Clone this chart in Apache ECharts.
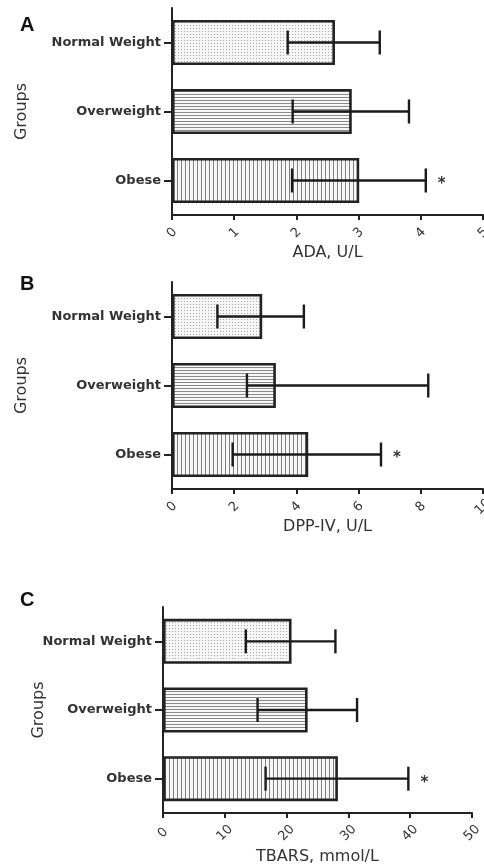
<!DOCTYPE html>
<html>
<head>
<meta charset="utf-8">
<script src="https://cdn.jsdelivr.net/npm/echarts@6/dist/echarts.min.js"></script>
<style>
html,body{margin:0;padding:0;background:#fff;}
#chart{width:484px;height:866px;}
</style>
</head>
<body>
<div id="chart"></div>
<script>
// ---- data ----
const categories = ['Normal Weight', 'Overweight', 'Obese'];
const panelLabels = ['A', 'B', 'C'];
const axisTitles = ['ADA, U/L', 'DPP-IV, U/L', 'TBARS, mmol/L'];
const yTitle = 'Groups';
const significance = ['', '', '*'];

const adaMean = [2.62, 2.89, 3.01];
const adaLow = [1.86, 1.94, 1.93];
const adaHigh = [3.34, 3.81, 4.08];

const dppMean = [2.90, 3.34, 4.38];
const dppLow = [1.46, 2.41, 1.95];
const dppHigh = [4.24, 8.24, 6.72];

const tbarsMean = [20.8, 23.4, 28.3];
const tbarsLow = [13.4, 15.3, 16.6];
const tbarsHigh = [27.9, 31.4, 39.7];

const axisMax = [5, 10, 50];
const axisInterval = [1, 2, 10];

// ---- patterns ----
function makePattern(w, h, bg, draw) {
  const c = document.createElement('canvas');
  c.width = w; c.height = h;
  const ctx = c.getContext('2d');
  ctx.fillStyle = bg; ctx.fillRect(0, 0, w, h);
  draw(ctx);
  return { image: c, repeat: 'repeat' };
}
const dotPattern = makePattern(3, 3, '#f6f6f6', ctx => { ctx.fillStyle = '#a8a8a8'; ctx.fillRect(1, 1, 1, 1); });
const hPattern = makePattern(4, 3, '#f7f7f7', ctx => { ctx.fillStyle = '#8a8a8a'; ctx.fillRect(0, 1, 4, 1); });
const vPattern = makePattern(4, 4, '#f7f7f7', ctx => { ctx.fillStyle = '#808080'; ctx.fillRect(1, 0, 1, 4); });
const patterns = [dotPattern, hPattern, vPattern];

const means = [adaMean, dppMean, tbarsMean];
const lows = [adaLow, dppLow, tbarsLow];
const highs = [adaHigh, dppHigh, tbarsHigh];

const grids = [
  { left: 172, top: 8, width: 311, height: 207 },
  { left: 172, top: 282, width: 311, height: 207 },
  { left: 163, top: 607, width: 309, height: 206 }
];
const nameGapsX = [30, 30, 36];
const nameGapsY = [142, 142, 116];
const labelMargins = [18, 18, 20];

const FONT = 'DejaVu Sans';
const ink = '#222';

const xAxes = grids.map((g, i) => ({
  type: 'value', gridIndex: i, min: 0, max: axisMax[i], interval: axisInterval[i],
  name: axisTitles[i], nameLocation: 'middle', nameGap: nameGapsX[i], nameMoveOverlap: false,
  nameTextStyle: { fontFamily: FONT, fontSize: 16, color: '#333' },
  axisLine: { show: true, onZero: false, lineStyle: { color: ink, width: 2 } },
  axisTick: { show: true, length: 5, lineStyle: { color: ink, width: 2 } },
  axisLabel: { rotate: 45, margin: labelMargins[i], align: 'center', verticalAlign: 'middle',
    fontFamily: FONT, fontSize: 13, color: '#333', showMaxLabel: true, showMinLabel: true },
  splitLine: { show: false }
}));

const yAxes = grids.map((g, i) => ({
  type: 'category', gridIndex: i, data: categories, inverse: true,
  name: yTitle, nameLocation: 'middle', nameGap: nameGapsY[i], nameMoveOverlap: false,
  nameTextStyle: { fontFamily: FONT, fontSize: 16, color: '#333' },
  axisLine: { show: true, lineStyle: { color: ink, width: 2 } },
  axisTick: { show: true, alignWithLabel: true, length: 8, lineStyle: { color: ink, width: 2 } },
  axisLabel: { margin: 11, fontFamily: FONT, fontSize: 13, fontWeight: 'bold', color: '#333' }
}));

const series = [];
grids.forEach((g, i) => {
  series.push({
    type: 'bar', xAxisIndex: i, yAxisIndex: i, barWidth: 45, silent: true,
    data: means[i].map((v, k) => ({ value: v, itemStyle: { color: patterns[k], borderColor: ink, borderWidth: 2.6 } })),
    z: 2
  });
  series.push({
    type: 'custom', xAxisIndex: i, yAxisIndex: i, silent: true, z: 5,
    encode: { x: [0, 1], y: 2 },
    data: lows[i].map((lo, k) => [lo, highs[i][k], k]),
    renderItem: function (params, api) {
      const k = api.value(2);
      const p1 = api.coord([api.value(0), k]);
      const p2 = api.coord([api.value(1), k]);
      const h = 12;
      const st = { stroke: '#1a1a1a', lineWidth: 2.4 };
      const children = [
        { type: 'line', shape: { x1: p1[0], y1: p1[1], x2: p2[0], y2: p2[1] }, style: st },
        { type: 'line', shape: { x1: p1[0], y1: p1[1] - h, x2: p1[0], y2: p1[1] + h }, style: st },
        { type: 'line', shape: { x1: p2[0], y1: p2[1] - h, x2: p2[0], y2: p2[1] + h }, style: st }
      ];
      if (significance[k]) {
        children.push({ type: 'text', x: p2[0] + 16, y: p2[1] + 4,
          style: { text: significance[k], font: 'bold 15px "DejaVu Sans"', fill: '#333', align: 'center', verticalAlign: 'middle' } });
      }
      return { type: 'group', children: children };
    }
  });
});

const labelPos = [[20, 33], [20, 292], [20, 608]];
const graphic = panelLabels.map((t, i) => ({
  type: 'text', left: labelPos[i][0], top: labelPos[i][1] - 18,
  style: { text: t, font: 'bold 20px "Liberation Sans"', fill: '#111' }
}));

const chart = echarts.init(document.getElementById('chart'), null, { renderer: 'canvas' });
chart.setOption({
  animation: false,
  backgroundColor: '#fff',
  grid: grids.map(g => Object.assign({ containLabel: false, outerBoundsMode: 'none' }, g)),
  xAxis: xAxes,
  yAxis: yAxes,
  series: series,
  graphic: graphic
});
</script>
</body>
</html>
